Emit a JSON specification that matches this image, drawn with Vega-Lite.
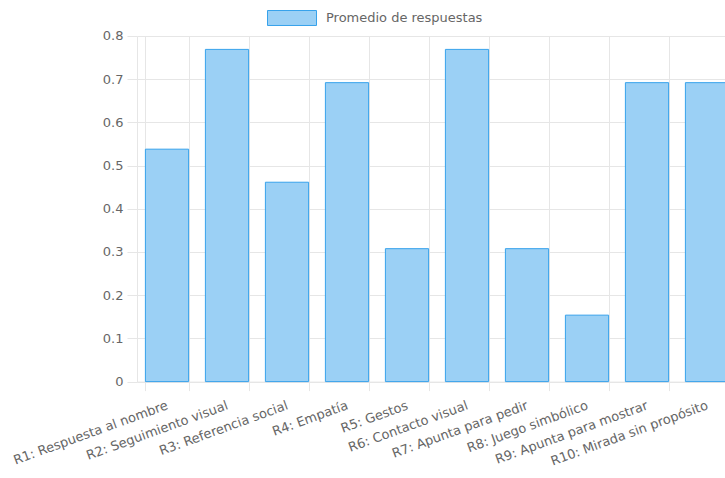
{
  "$schema": "https://vega.github.io/schema/vega-lite/v6.json",
  "autosize": {"type": "none"},
  "padding": {"left": 137, "top": 36, "right": 0, "bottom": 97},
  "width": 600,
  "height": 345.6,
  "background": "white",
  "data": {
    "values": [
      {"item": "R1: Respuesta al nombre", "value": 0.538},
      {"item": "R2: Seguimiento visual", "value": 0.769},
      {"item": "R3: Referencia social", "value": 0.4615},
      {"item": "R4: Empatía", "value": 0.692},
      {"item": "R5: Gestos", "value": 0.3077},
      {"item": "R6: Contacto visual", "value": 0.769},
      {"item": "R7: Apunta para pedir", "value": 0.3077},
      {"item": "R8: Juego simbólico", "value": 0.1538},
      {"item": "R9: Apunta para mostrar", "value": 0.692},
      {"item": "R10: Mirada sin propósito", "value": 0.692}
    ]
  },
  "mark": {"type": "bar", "fillOpacity": 1, "stroke": "#36a2eb", "strokeWidth": 1},
  "encoding": {
    "x": {
      "field": "item",
      "type": "nominal",
      "sort": null,
      "scale": {"paddingInner": 0.28, "paddingOuter": 0.14},
      "axis": {
        "title": null,
        "labelAngle": -20,
        "labelAlign": "right",
        "labelBaseline": "middle",
        "labelPadding": 14,
        "labelFont": "DejaVu Sans",
        "labelFontSize": 13,
        "labelColor": "#666666",
        "tickBand": "extent",
        "tickSize": 9,
        "tickColor": "#e6e6e6",
        "domainColor": "#e6e6e6",
        "grid": true,
        "gridColor": "#e6e6e6"
      }
    },
    "y": {
      "field": "value",
      "type": "quantitative",
      "scale": {"domain": [0, 0.8], "nice": false},
      "axis": {
        "title": null,
        "values": [0, 0.1, 0.2, 0.3, 0.4, 0.5, 0.6, 0.7, 0.8],
        "format": ".1~f",
        "labelFont": "DejaVu Sans",
        "labelFontSize": 13,
        "labelColor": "#666666",
        "labelPadding": 4,
        "tickSize": 10,
        "tickColor": "#e6e6e6",
        "domainColor": "#e6e6e6",
        "grid": true,
        "gridColor": "#e6e6e6"
      }
    },
    "color": {
      "datum": "Promedio de respuestas",
      "type": "nominal",
      "scale": {"range": ["#9bd0f5"]},
      "legend": {
        "title": null,
        "orient": "none",
        "legendX": 130,
        "legendY": -43,
        "padding": 0,
        "symbolType": "M-1,-0.306H1V0.306H-1Z",
        "symbolSize": 2401,
        "symbolStrokeColor": "#36a2eb",
        "symbolStrokeWidth": 1,
        "labelOffset": 9,
        "labelFont": "DejaVu Sans",
        "labelFontSize": 13,
        "labelColor": "#666666"
      }
    }
  },
  "config": {"view": {"stroke": null}}
}
